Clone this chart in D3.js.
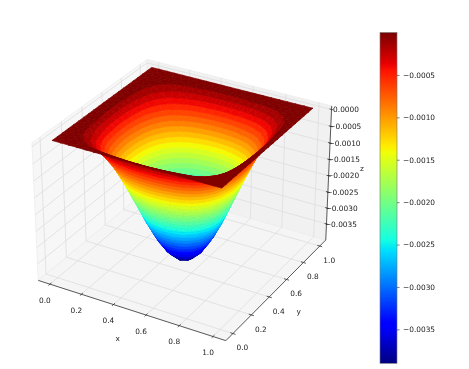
<!DOCTYPE html>
<html>
<head>
  <meta charset="utf-8">
  <script src="https://d3js.org/d3.v7.min.js"></script>
  <style>
    html, body { margin: 0; background: #fff; }
    svg { display: block; filter: blur(.3px); }
    text { font-family: "DejaVu Sans", sans-serif; font-size: 7.4px; fill: #222; }
  </style>
</head>
<body>
<div id="chart"></div>
<script>

    // depth of the surface below z = 0, in units of 1e-5
    const zUnit = -1e-5
    const xValues = [0,.05,.1,.15,.2,.25,.3,.35,.4,.45,.5,.55,.6,.65,.7,.75,.8,.85,.9,.95,1]
    const yValues = [0,.05,.1,.15,.2,.25,.3,.35,.4,.45,.5,.55,.6,.65,.7,.75,.8,.85,.9,.95,1]
    const zGrid = [
        [0,0,0,0,0,0,0,0,0,0,0,0,0,0,0,0,0,0,0,0,0],
        [0,1,2,4,6,8,10,12,13,14,14,14,13,12,10,8,6,4,2,1,0],
        [0,2,7,13,21,28,36,42,47,50,51,50,47,42,36,28,21,13,7,2,0],
        [0,4,13,26,42,57,72,84,93,99,101,99,93,84,72,57,42,26,13,4,0],
        [0,6,21,42,65,90,113,132,147,157,160,157,147,132,113,90,65,42,21,6,0],
        [0,8,28,57,90,123,155,182,202,215,219,215,202,182,155,123,90,57,28,8,0],
        [0,10,36,72,113,155,194,228,254,270,275,270,254,228,194,155,113,72,36,10,0],
        [0,12,42,84,132,182,228,267,298,317,323,317,298,267,228,182,132,84,42,12,0],
        [0,13,47,93,147,202,254,298,331,352,359,352,331,298,254,202,147,93,47,13,0],
        [0,14,50,99,157,215,270,317,352,375,382,375,352,317,270,215,157,99,50,14,0],
        [0,14,51,101,160,219,275,323,359,382,390,382,359,323,275,219,160,101,51,14,0],
        [0,14,50,99,157,215,270,317,352,375,382,375,352,317,270,215,157,99,50,14,0],
        [0,13,47,93,147,202,254,298,331,352,359,352,331,298,254,202,147,93,47,13,0],
        [0,12,42,84,132,182,228,267,298,317,323,317,298,267,228,182,132,84,42,12,0],
        [0,10,36,72,113,155,194,228,254,270,275,270,254,228,194,155,113,72,36,10,0],
        [0,8,28,57,90,123,155,182,202,215,219,215,202,182,155,123,90,57,28,8,0],
        [0,6,21,42,65,90,113,132,147,157,160,157,147,132,113,90,65,42,21,6,0],
        [0,4,13,26,42,57,72,84,93,99,101,99,93,84,72,57,42,26,13,4,0],
        [0,2,7,13,21,28,36,42,47,50,51,50,47,42,36,28,21,13,7,2,0],
        [0,1,2,4,6,8,10,12,13,14,14,14,13,12,10,8,6,4,2,1,0],
        [0,0,0,0,0,0,0,0,0,0,0,0,0,0,0,0,0,0,0,0,0]
    ]
    const xTicks = [0,.2,.4,.6,.8,1]
    const yTicks = [0,.2,.4,.6,.8,1]
    const zTicks = [0,-.0005,-.001,-.0015,-.002,-.0025,-.003,-.0035]
    const barTicks = [-.0005,-.001,-.0015,-.002,-.0025,-.003,-.0035]
    const zExtent = [-.0039,0]
    const bandCount = 32

    const width = 469, height = 369

    // jet colormap
    const jetR = d3.scaleLinear().domain([0,.35,.66,.89,1]).range([0,0,255,255,128]).clamp(true)
    const jetG = d3.scaleLinear().domain([0,.125,.375,.64,.91,1]).range([0,0,255,255,0,0]).clamp(true)
    const jetB = d3.scaleLinear().domain([0,.11,.34,.65,1]).range([128,255,255,0,0]).clamp(true)
    const jet = t => `rgb(${Math.round(jetR(t))},${Math.round(jetG(t))},${Math.round(jetB(t))})`

    // 3d view: elev 30, azim -60, seen from distance 10
    const pad = .075
    const boxLo = -pad, boxHi = 1 + pad
    const zBottom = -.00394, zTop = 0
    const zWorld = d3.scaleLinear().domain(zExtent).range([.173, 1])
    // the z ticks sit a little below the surface's own z = 0 in the picture
    const zTickAt = d3.scaleLinear().domain([-.0035, 0]).range([-.00345, -.0001])
    const screenX = d3.scaleLinear().domain([0, 1]).range([184.6, 184.6 + 1860])
    const screenY = d3.scaleLinear().domain([0, 1]).range([206.7, 206.7 - 1860])
    const viewDir = [.433, -.75, .5], viewU = [.866, .5, 0], viewV = [-.25, .433, .866]
    const dot = (a, b) => a[0]*b[0] + a[1]*b[1] + a[2]*b[2]

    function depth(x, y, z) {
        return dot([x - .5, y - .5, zWorld(z) - .5], viewDir)
    }

    function project(x, y, z) {
        const p = [x - .5, y - .5, zWorld(z) - .5]
        const w = 10 - dot(p, viewDir)
        return [screenX(dot(p, viewU) / w), screenY(dot(p, viewV) / w)]
    }

    const line3d = pts => d3.line()(pts.map(p => project(p[0], p[1], p[2])))

    const svg = d3.select("#chart").append("svg")
        .attr("width", width)
        .attr("height", height)

    function drawPanes() {
        const g = svg.append("g")
        const panes = [
            { fill: "#f7f7f7", pts: [[boxLo,boxLo,zBottom],[boxLo,boxHi,zBottom],[boxLo,boxHi,zTop],[boxLo,boxLo,zTop]] },
            { fill: "#f1f1f1", pts: [[boxLo,boxHi,zBottom],[boxHi,boxHi,zBottom],[boxHi,boxHi,zTop],[boxLo,boxHi,zTop]] },
            { fill: "#f5f5f5", pts: [[boxLo,boxLo,zBottom],[boxHi,boxLo,zBottom],[boxHi,boxHi,zBottom],[boxLo,boxHi,zBottom]] }
        ]
        g.selectAll("path").data(panes).enter().append("path")
            .attr("d", d => line3d(d.pts) + "Z")
            .attr("fill", d => d.fill)
            .attr("stroke", "#ececec")
            .attr("stroke-width", .8)

        const gridLines = [
            ...xTicks.map(t => [[t,boxLo,zBottom],[t,boxHi,zBottom],[t,boxHi,zTop]]),
            ...yTicks.map(t => [[boxHi,t,zBottom],[boxLo,t,zBottom],[boxLo,t,zTop]]),
            ...zTicks.map(t => [[boxLo,boxLo,zTickAt(t)],[boxLo,boxHi,zTickAt(t)],[boxHi,boxHi,zTickAt(t)]])
        ]
        g.selectAll("path.gridline").data(gridLines).enter().append("path")
            .attr("class", "gridline")
            .attr("d", line3d)
            .attr("fill", "none")
            .attr("stroke", "#dddddd")
            .attr("stroke-width", .8)
    }

    // clips a triangle to lo <= z <= hi
    function clipBand(tri, lo, hi) {
        const clip = (poly, inside, level) => {
            const out = []
            poly.forEach((a, i) => {
                const b = poly[(i + 1) % poly.length]
                if (inside(a.z)) out.push(a)
                if (inside(a.z) !== inside(b.z)) {
                    const t = (level - a.z) / (b.z - a.z)
                    out.push({ x: a.x + t*(b.x - a.x), y: a.y + t*(b.y - a.y), z: level })
                }
            })
            return out
        }
        const upper = clip(tri, z => z >= lo, lo)
        return upper.length ? clip(upper, z => z <= hi, hi) : upper
    }

    function surfaceBands() {
        const tris = []
        d3.range(xValues.length - 1).forEach(i => {
            d3.range(yValues.length - 1).forEach(j => {
                const c = (a, b) => ({ x: xValues[a], y: yValues[b], z: zGrid[a][b] * zUnit })
                const p = [c(i,j), c(i+1,j), c(i+1,j+1), c(i,j+1)]
                tris.push([p[0],p[1],p[2]], [p[0],p[2],p[3]])
            })
        })
        tris.forEach(t => t.d = d3.mean(t, p => depth(p.x, p.y, p.z)))
        tris.sort((a, b) => d3.ascending(a.d, b.d))

        const bandStep = (zExtent[1] - zExtent[0]) / bandCount
        const polys = []
        tris.forEach(tri => {
            d3.range(bandCount).forEach(k => {
                const lo = zExtent[0] + k*bandStep
                const hi = k === bandCount - 1 ? 1 : lo + bandStep
                if (d3.max(tri, p => p.z) < lo || d3.min(tri, p => p.z) > hi) return
                const poly = clipBand(tri, lo, hi)
                if (poly.length > 2) polys.push({ poly, k })
            })
        })
        return polys
    }

    function drawSurface() {
        svg.append("g").selectAll("polygon")
            .data(surfaceBands()).enter().append("polygon")
            .attr("points", d => d.poly.map(p => project(p.x, p.y, p.z).map(v => v.toFixed(2)).join(",")).join(" "))
            .attr("fill", d => jet(d.k / (bandCount - 1)))
            .attr("stroke", d => jet(d.k / (bandCount - 1)))
            .attr("stroke-width", .7)
            .attr("stroke-linejoin", "round")
    }

    function drawAxes() {
        const g = svg.append("g")
        const edge = [
            [[boxLo,boxLo,zBottom],[boxHi,boxLo,zBottom]],
            [[boxHi,boxLo,zBottom],[boxHi,boxHi,zBottom]],
            [[boxHi,boxHi,zBottom],[boxHi,boxHi,zTop]]
        ]
        const tickMarks = [
            ...xTicks.map(t => [[t,boxLo-.015,zBottom],[t,boxLo+.015,zBottom]]),
            ...yTicks.map(t => [[boxHi-.015,t,zBottom],[boxHi+.015,t,zBottom]]),
            ...zTicks.map(t => [[boxHi-.012,boxHi,zTickAt(t)],[boxHi+.012,boxHi,zTickAt(t)]])
        ]
        g.selectAll("path").data(edge.concat(tickMarks)).enter().append("path")
            .attr("d", line3d)
            .attr("fill", "none")
            .attr("stroke", "#333")
            .attr("stroke-width", .8)

        const fmt = d3.format(".1f")
        const labels = [
            ...xTicks.map(t => ({ at: project(t, boxLo, zBottom), dx: -5, dy: 16, text: fmt(t) })),
            ...yTicks.map(t => ({ at: project(boxHi, t, zBottom), dx: 9.5, dy: 14, text: fmt(t) })),
            ...zTicks.map(t => ({ at: project(boxHi, boxHi, zTickAt(t)), dx: 14.5, dy: 0, text: d3.format(".4f")(t) })),
            { at: [117.7, 338], dx: 0, dy: 0, text: "x" },
            { at: [298.7, 311], dx: 0, dy: 0, text: "y" },
            { at: [362, 168], dx: 0, dy: 0, text: "z" }
        ]
        g.selectAll("text").data(labels).enter().append("text")
            .attr("x", d => d.at[0] + d.dx)
            .attr("y", d => d.at[1] + d.dy)
            .attr("dy", "0.35em")
            .attr("text-anchor", "middle")
            .text(d => d.text)
    }

    function drawColorbar() {
        const barLeft = 380, barRight = 397
        const barScale = d3.scaleLinear().domain(zExtent).range([363.3, 32.5])
        const steps = d3.range(256)

        const g = svg.append("g")
        g.selectAll("rect").data(steps).enter().append("rect")
            .attr("x", barLeft)
            .attr("width", barRight - barLeft)
            .attr("y", d => barScale(zExtent[0] + (d + 1) / 256 * (zExtent[1] - zExtent[0])))
            .attr("height", d => d === 0 ? (barScale.range()[0] - barScale.range()[1]) / 256 : (barScale.range()[0] - barScale.range()[1]) / 256 + 1)
            .attr("fill", d => jet(d / 255))

        g.append("rect")
            .attr("x", barLeft)
            .attr("y", barScale.range()[1])
            .attr("width", barRight - barLeft)
            .attr("height", barScale.range()[0] - barScale.range()[1])
            .attr("fill", "none")
            .attr("stroke", "#777")
            .attr("stroke-width", .6)

        const axis = g.append("g")
            .attr("transform", `translate(${barRight},0)`)
            .call(d3.axisRight(barScale)
                .tickValues(barTicks)
                .tickFormat(d3.format(".4f"))
                .tickSize(2.6)
                .tickPadding(3.4))
        axis.select(".domain").remove()
        axis.attr("font-family", null).attr("font-size", null)
        axis.selectAll("line").attr("stroke", "#333").attr("stroke-width", .6)
    }

    drawPanes()
    drawSurface()
    drawAxes()
    drawColorbar()

</script>
</body>
</html>
